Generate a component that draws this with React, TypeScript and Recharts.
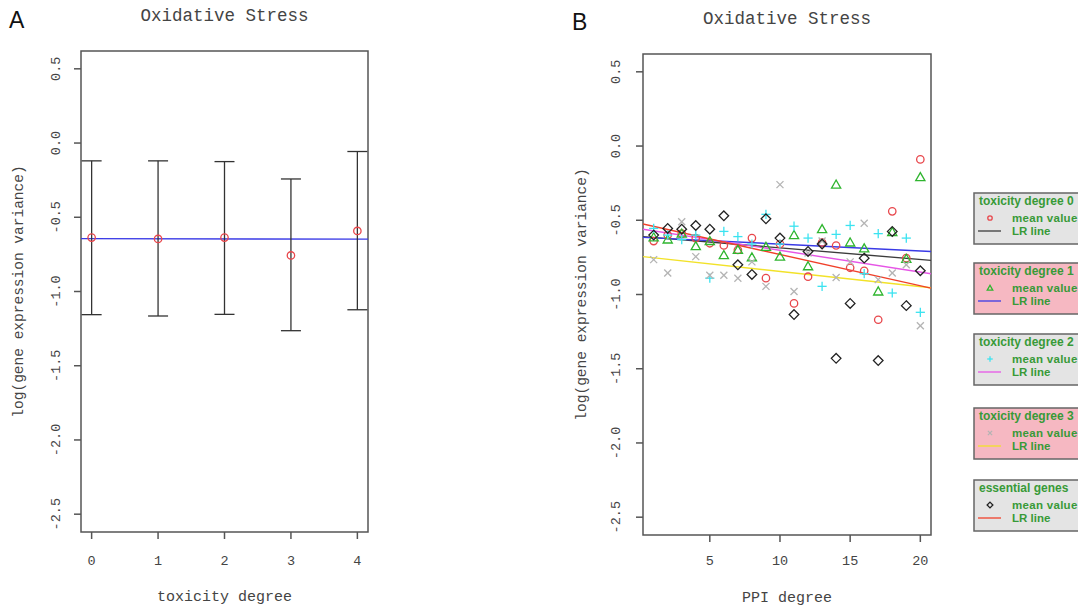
import React from 'react';
import { ComposedChart, Scatter, Line, XAxis, YAxis, ErrorBar, ReferenceArea } from 'recharts';

// ---------- Panel A data ----------
const toxicityDegrees = [0, 1, 2, 3, 4];
const meanExpressionA = [-0.637, -0.646, -0.637, -0.757, -0.592];
const upperBoundA = [-0.12, -0.12, -0.125, -0.242, -0.057];
const lowerBoundA = [-1.156, -1.165, -1.154, -1.264, -1.123];
const fitInterceptA = -0.644;
const fitSlopeA = -0.0008;

// ---------- Panel B data ----------
const ppiDegrees = [1, 2, 3, 4, 5, 6, 7, 8, 9, 10, 11, 12, 13, 14, 15, 16, 17, 18, 19, 20];
const tox0Means = [-0.64, -0.6, -0.59, -0.62, -0.655, -0.67, -0.7, -0.62, -0.89, -0.66, -1.06, -0.88, -0.65, -0.67, -0.82, -0.84, -1.17, -0.44, -0.755, -0.09];
const tox1Means = [-0.615, -0.63, -0.59, -0.675, -0.64, -0.735, -0.7, -0.75, -0.68, -0.745, -0.6, -0.81, -0.56, -0.26, -0.65, -0.69, -0.98, -0.58, -0.76, -0.21];
const tox2Means = [-0.555, -0.6, -0.63, -0.6, -0.89, -0.575, -0.61, -0.66, -0.46, -0.66, -0.54, -0.62, -0.945, -0.595, -0.535, -0.86, -0.59, -0.99, -0.62, -1.12];
const tox3Means = [-0.765, -0.855, -0.51, -0.745, -0.87, -0.87, -0.89, -0.78, -0.945, -0.26, -0.98, -0.72, -0.64, -0.885, -0.78, -0.52, -0.9, -0.855, -0.8, -1.21];
const essentialMeans = [-0.6, -0.555, -0.56, -0.535, -0.56, -0.47, -0.8, -0.865, -0.49, -0.62, -1.135, -0.71, -0.66, -1.43, -1.06, -0.755, -1.445, -0.575, -1.075, -0.84];

const lrIntercepts = [-0.608, -0.614, -0.5565, -0.7425, -0.52];
const lrSlopes = [-0.0078, -0.00463, -0.01462, -0.01023, -0.02105];

const legendTitles = ['toxicity degree 0', 'toxicity degree 1', 'toxicity degree 2', 'toxicity degree 3', 'essential genes'];
const legendPoint = 'mean value';
const legendLine = 'LR line';

// ---------- axes ----------
const yTickValues = [0.5, 0.0, -0.5, -1.0, -1.5, -2.0, -2.5];
const yDomain: [number, number] = [-2.62, 0.62];
const xTicksA = [0, 1, 2, 3, 4];
const xDomainA: [number, number] = [-0.16, 4.16];
const xTicksB = [5, 10, 15, 20];
const xDomainB: [number, number] = [0.24, 20.76];

const titleText = 'Oxidative Stress';
const yLabelText = 'log(gene expression variance)';
const xLabelA = 'toxicity degree';
const xLabelB = 'PPI degree';

// ---------- styles ----------
const MONO = '"Liberation Mono", "DejaVu Sans Mono", monospace';
const SANS = '"Liberation Sans", Arial, sans-serif';
const TEXT = '#444';
const FRAME = '#555';
const RED = '#e8474c';
const GREEN = '#2fb52f';
const CYAN = '#3be3f0';
const GRAY = '#b4b4b4';
const BLACK = '#222';
const seriesColors = [RED, GREEN, CYAN, GRAY, BLACK];
const seriesKinds = ['circle', 'triangle', 'plus', 'cross', 'diamond'];
const lrColors = ['#3c3c3c', '#3a3ae6', '#e655e6', '#f2e229', '#f0402a'];
const legendFills = ['#e4e4e4', '#f6b8c2', '#e4e4e4', '#f6b8c2', '#e4e4e4'];
const LEGEND_GREEN = '#389a38';

function Marker({ kind, cx, cy, color, s = 1 }: any) {
  if (cx == null || cy == null) return null;
  const sw = 1.3;
  if (kind === 'circle') return <circle cx={cx} cy={cy} r={3.7 * s} fill="none" stroke={color} strokeWidth={sw} />;
  if (kind === 'triangle') {
    const h = 4.6 * s;
    return <polygon points={`${cx},${cy - h} ${cx - h},${cy + h * 0.75} ${cx + h},${cy + h * 0.75}`} fill="none" stroke={color} strokeWidth={sw} />;
  }
  if (kind === 'plus') {
    const h = 4.6 * s;
    return (
      <g stroke={color} strokeWidth={sw}>
        <line x1={cx - h} y1={cy} x2={cx + h} y2={cy} />
        <line x1={cx} y1={cy - h} x2={cx} y2={cy + h} />
      </g>
    );
  }
  if (kind === 'cross') {
    const h = 3.5 * s;
    return (
      <g stroke={color} strokeWidth={sw}>
        <line x1={cx - h} y1={cy - h} x2={cx + h} y2={cy + h} />
        <line x1={cx - h} y1={cy + h} x2={cx + h} y2={cy - h} />
      </g>
    );
  }
  const h = 4.8 * s;
  return <polygon points={`${cx},${cy - h} ${cx + h},${cy} ${cx},${cy + h} ${cx - h},${cy}`} fill="none" stroke={color} strokeWidth={sw} />;
}

const shapeOf = (kind: string, color: string) => (p: any) => <Marker kind={kind} cx={p.cx} cy={p.cy} color={color} />;

const fmt = (v: number) => (v === 0 ? '0.0' : v.toFixed(1));

const YTick = (props: any) => {
  const { x, y, payload } = props;
  return (
    <text x={x} y={y} transform={`rotate(-90 ${x} ${y})`} textAnchor="middle" fontFamily={MONO} fontSize={13.5} fill={TEXT}>
      {fmt(payload.value)}
    </text>
  );
};

const XTick = (props: any) => {
  const { x, y, payload } = props;
  return (
    <text x={x} y={y + 10} textAnchor="middle" fontFamily={MONO} fontSize={13.5} fill={TEXT}>
      {payload.value}
    </text>
  );
};

const fitLine = (a: number, b: number, dom: [number, number]) => [
  { x: dom[0], y: a + b * dom[0] },
  { x: dom[1], y: a + b * dom[1] },
];

const dataA = toxicityDegrees.map((x, i) => ({
  x,
  y: meanExpressionA[i],
  err: [meanExpressionA[i] - lowerBoundA[i], upperBoundA[i] - meanExpressionA[i]],
}));

const seriesB = [tox0Means, tox1Means, tox2Means, tox3Means, essentialMeans];

function PanelA() {
  return (
    <ComposedChart width={400} height={608} margin={{ top: 51, right: 32, bottom: 0, left: 0 }}>
      <XAxis
        dataKey="x"
        type="number"
        domain={xDomainA}
        ticks={xTicksA}
        allowDataOverflow
        height={76}
        tickSize={7}
        tickMargin={16}
        tick={<XTick />}
        axisLine={false}
        tickLine={{ stroke: FRAME, strokeWidth: 1.5 }}
      />
      <YAxis
        type="number"
        domain={yDomain}
        ticks={yTickValues}
        allowDataOverflow
        width={81}
        tickSize={7}
        tickMargin={14}
        tick={<YTick />}
        axisLine={false}
        tickLine={{ stroke: FRAME, strokeWidth: 1.5 }}
      />
      <ReferenceArea x1={xDomainA[0]} x2={xDomainA[1]} y1={yDomain[0]} y2={yDomain[1]} fill="none" stroke={FRAME} strokeWidth={1.5} ifOverflow="visible" />
      <Line data={fitLine(fitInterceptA, fitSlopeA, xDomainA)} dataKey="y" stroke="#3a3ae6" strokeWidth={1.4} dot={false} isAnimationActive={false} />
      <Scatter data={dataA} dataKey="y" shape={shapeOf('circle', RED)} isAnimationActive={false}>
        <ErrorBar dataKey="err" direction="y" width={10} stroke="#333" strokeWidth={1.3} />
      </Scatter>
    </ComposedChart>
  );
}

function PanelB() {
  return (
    <ComposedChart width={518} height={608} margin={{ top: 54, right: 147, bottom: 0, left: 0 }}>
      <XAxis
        dataKey="x"
        type="number"
        domain={xDomainB}
        ticks={xTicksB}
        allowDataOverflow
        height={73}
        tickSize={7}
        tickMargin={13}
        tick={<XTick />}
        axisLine={false}
        tickLine={{ stroke: FRAME, strokeWidth: 1.5 }}
      />
      <YAxis
        type="number"
        domain={yDomain}
        ticks={yTickValues}
        allowDataOverflow
        width={83}
        tickSize={7}
        tickMargin={16}
        tick={<YTick />}
        axisLine={false}
        tickLine={{ stroke: FRAME, strokeWidth: 1.5 }}
      />
      <ReferenceArea x1={xDomainB[0]} x2={xDomainB[1]} y1={yDomain[0]} y2={yDomain[1]} fill="none" stroke={FRAME} strokeWidth={1.5} ifOverflow="visible" />
      {seriesB.map((vals, k) => (
        <Scatter
          key={'s' + k}
          data={ppiDegrees.map((x, i) => ({ x, y: vals[i] }))}
          dataKey="y"
          shape={shapeOf(seriesKinds[k], seriesColors[k])}
          isAnimationActive={false}
        />
      ))}
      {lrIntercepts.map((a, k) => (
        <Line
          key={'l' + k}
          data={fitLine(a, lrSlopes[k], xDomainB)}
          dataKey="y"
          stroke={lrColors[k]}
          strokeWidth={1.4}
          dot={false}
          isAnimationActive={false}
        />
      ))}
    </ComposedChart>
  );
}

const legendTops = [193, 263, 334, 408, 480];

function Overlay() {
  return (
    <svg width={1078} height={608} style={{ position: 'absolute', left: 0, top: 0, pointerEvents: 'none' }}>
      <text x={9} y={28} fontFamily={SANS} fontSize={23} fill="#111">A</text>
      <text x={572} y={30} fontFamily={SANS} fontSize={23} fill="#111">B</text>
      <text x={224.5} y={21} textAnchor="middle" fontFamily={MONO} fontSize={17.5} fill={TEXT}>{titleText}</text>
      <text x={787} y={24} textAnchor="middle" fontFamily={MONO} fontSize={17.5} fill={TEXT}>{titleText}</text>
      <text x={224.5} y={601} textAnchor="middle" fontFamily={MONO} fontSize={15} fill={TEXT}>{xLabelA}</text>
      <text x={787} y={602} textAnchor="middle" fontFamily={MONO} fontSize={15} fill={TEXT}>{xLabelB}</text>
      <text x={23} y={291.5} transform="rotate(-90 23 291.5)" textAnchor="middle" fontFamily={MONO} fontSize={14.5} fill={TEXT}>{yLabelText}</text>
      <text x={586} y={294.5} transform="rotate(-90 586 294.5)" textAnchor="middle" fontFamily={MONO} fontSize={14.5} fill={TEXT}>{yLabelText}</text>
      {legendTitles.map((t, k) => {
        const top = legendTops[k];
        return (
          <g key={k}>
            <rect x={974} y={top} width={120} height={51} fill={legendFills[k]} stroke="#666" strokeWidth={1.5} />
            <text x={979} y={top + 12} fontFamily={SANS} fontWeight="bold" fontSize={12} fill={LEGEND_GREEN}>{t}</text>
            <Marker kind={seriesKinds[k]} cx={990} cy={top + 25} color={seriesColors[k]} s={0.6} />
            <text x={1012} y={top + 29} fontFamily={SANS} fontWeight="bold" fontSize={11.5} fill={LEGEND_GREEN} letterSpacing={0.3}>{legendPoint}</text>
            <line x1={978} x2={1001} y1={top + 38} y2={top + 38} stroke={lrColors[k]} strokeWidth={1.3} />
            <text x={1012} y={top + 42} fontFamily={SANS} fontWeight="bold" fontSize={11.5} fill={LEGEND_GREEN}>{legendLine}</text>
          </g>
        );
      })}
    </svg>
  );
}

export default function App() {
  return (
    <div style={{ position: 'absolute', left: 0, top: 0, width: 1078, height: 608, background: '#fff', overflow: 'hidden' }}>
      <div style={{ position: 'absolute', left: 0, top: 0 }}>
        <PanelA />
      </div>
      <div style={{ position: 'absolute', left: 560, top: 0 }}>
        <PanelB />
      </div>
      <Overlay />
    </div>
  );
}
